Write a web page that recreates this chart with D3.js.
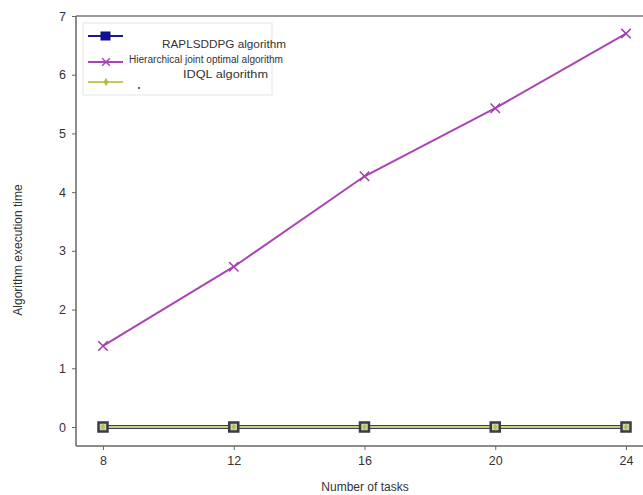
<!DOCTYPE html>
<html>
<head>
<meta charset="utf-8">
<script src="https://cdn.jsdelivr.net/npm/d3@7"></script>
<style>
  body { margin: 0; background: #fff; }
  text { font-family: "Liberation Sans", Arial, sans-serif; fill: #333; }
</style>
</head>
<body>
<svg id="chart" width="643" height="495"></svg>
<script>
const tasks = [8, 12, 16, 20, 24]
const hierarchical = [1.38, 2.73, 4.27, 5.43, 6.70]
const raplsddpg = [0, 0, 0, 0, 0]
const idql = [0, 0, 0, 0, 0]
const yTicks = [0, 1, 2, 3, 4, 5, 6, 7]
const legendNames = ["RAPLSDDPG algorithm", "Hierarchical joint optimal algorithm", "IDQL algorithm"]

const svg = d3.select("#chart")

const x = d3.scaleLinear().domain([8, 24]).range([103, 626])
const y = d3.scaleLinear().domain([0, 7]).range([427, 16])

const plotLeft = 76, plotTop = 16, plotBottom = 446

// spines
svg.append("line").attr("x1", plotLeft).attr("x2", plotLeft).attr("y1", plotTop).attr("y2", plotBottom)
    .attr("stroke", "#666").attr("stroke-width", 1.5)
svg.append("line").attr("x1", plotLeft).attr("x2", 643).attr("y1", plotTop).attr("y2", plotTop)
    .attr("stroke", "#777").attr("stroke-width", 1.5)
svg.append("line").attr("x1", plotLeft).attr("x2", 643).attr("y1", plotBottom).attr("y2", plotBottom)
    .attr("stroke", "#666").attr("stroke-width", 1.5)

// Y axis
const yAxis = svg.append("g")
    .attr("transform", "translate(" + plotLeft + ",0)")
    .call(d3.axisLeft(y).tickValues(yTicks).tickFormat(d3.format("d")).tickSize(4).tickPadding(6))
yAxis.select(".domain").remove()
yAxis.selectAll("line").attr("stroke", "#666")
yAxis.selectAll("text").style("font-size", "12.5px").style("fill", "#333")

// X axis
const xAxis = svg.append("g")
    .attr("transform", "translate(0," + plotBottom + ")")
    .call(d3.axisBottom(x).tickValues(tasks).tickFormat(d3.format("d")).tickSize(4).tickPadding(6))
xAxis.select(".domain").remove()
xAxis.selectAll("line").attr("stroke", "#666")
xAxis.selectAll("text").style("font-size", "12.5px").style("fill", "#333")

svg.append("text")
    .attr("x", 365).attr("y", 491)
    .attr("text-anchor", "middle")
    .style("font-size", "12px")
    .text("Number of tasks")

svg.append("text")
    .attr("transform", "translate(22,250) rotate(-90)")
    .attr("text-anchor", "middle")
    .style("font-size", "12px")
    .text("Algorithm execution time")

const line = d3.line().x((d, i) => x(tasks[i])).y(d => y(d))

// RAPLSDDPG (blue squares)
svg.append("path").datum(raplsddpg).attr("d", line)
    .attr("fill", "none").attr("stroke", "#3a3f5a").attr("stroke-width", 4)
// IDQL (yellow-green)
svg.append("path").datum(idql).attr("d", line)
    .attr("fill", "none").attr("stroke", "#c8d27a").attr("stroke-width", 2)

svg.selectAll(".sq").data(raplsddpg).enter().append("rect")
    .attr("x", (d, i) => x(tasks[i]) - 4.5)
    .attr("y", d => y(d) - 4.5)
    .attr("width", 9).attr("height", 9)
    .attr("fill", "#cfd3a8").attr("stroke", "#3a3a48").attr("stroke-width", 2.5)

svg.selectAll(".dm").data(idql).enter().append("path")
    .attr("d", d3.symbol().type(d3.symbolDiamond).size(14))
    .attr("transform", (d, i) => "translate(" + x(tasks[i]) + "," + y(d) + ")")
    .attr("fill", "#b8c04a")

// Hierarchical (magenta x)
svg.append("path").datum(hierarchical).attr("d", line)
    .attr("fill", "none").attr("stroke", "#a945b4").attr("stroke-width", 2)

svg.selectAll(".xm").data(hierarchical).enter().append("path")
    .attr("d", d3.symbol().type(d3.symbolX).size(60))
    .attr("transform", (d, i) => "translate(" + x(tasks[i]) + "," + y(d) + ")")
    .attr("fill", "none").attr("stroke", "#a33cae").attr("stroke-width", 1.5)

// legend
const legend = svg.append("g")
legend.append("rect")
    .attr("x", 83).attr("y", 23).attr("width", 189).attr("height", 72)
    .attr("fill", "#fff").attr("stroke", "#e4e4e4").attr("stroke-width", 1)

const legendY = [36, 62, 82]
const legendColors = ["#1a1a8c", "#b040b8", "#c8c85a"]
legendY.forEach((ly, i) => {
    legend.append("line").attr("x1", 88).attr("x2", 123).attr("y1", ly).attr("y2", ly)
        .attr("stroke", legendColors[i]).attr("stroke-width", 2)
})
legend.append("rect").attr("x", 101).attr("y", 32).attr("width", 9).attr("height", 8)
    .attr("fill", "#1010a0").attr("stroke", "#10106a")
legend.append("path").attr("d", d3.symbol().type(d3.symbolX).size(40))
    .attr("transform", "translate(106,62)").attr("fill", "none").attr("stroke", "#b040b8").attr("stroke-width", 1.5)
legend.append("path").attr("d", d3.symbol().type(d3.symbolDiamond).size(20))
    .attr("transform", "translate(106,82)").attr("fill", "#b8b840")
legend.append("circle").attr("cx", 139).attr("cy", 88).attr("r", 1).attr("fill", "#333")

legend.append("text").attr("x", 162).attr("y", 48).style("font-size", "10px")
    .attr("textLength", 124).attr("lengthAdjust", "spacingAndGlyphs").text(legendNames[0])
legend.append("text").attr("x", 129).attr("y", 63).style("font-size", "10px")
    .attr("textLength", 154).attr("lengthAdjust", "spacingAndGlyphs").text(legendNames[1])
legend.append("text").attr("x", 183).attr("y", 78).style("font-size", "10px")
    .attr("textLength", 85).attr("lengthAdjust", "spacingAndGlyphs").text(legendNames[2])
</script>
</body>
</html>
